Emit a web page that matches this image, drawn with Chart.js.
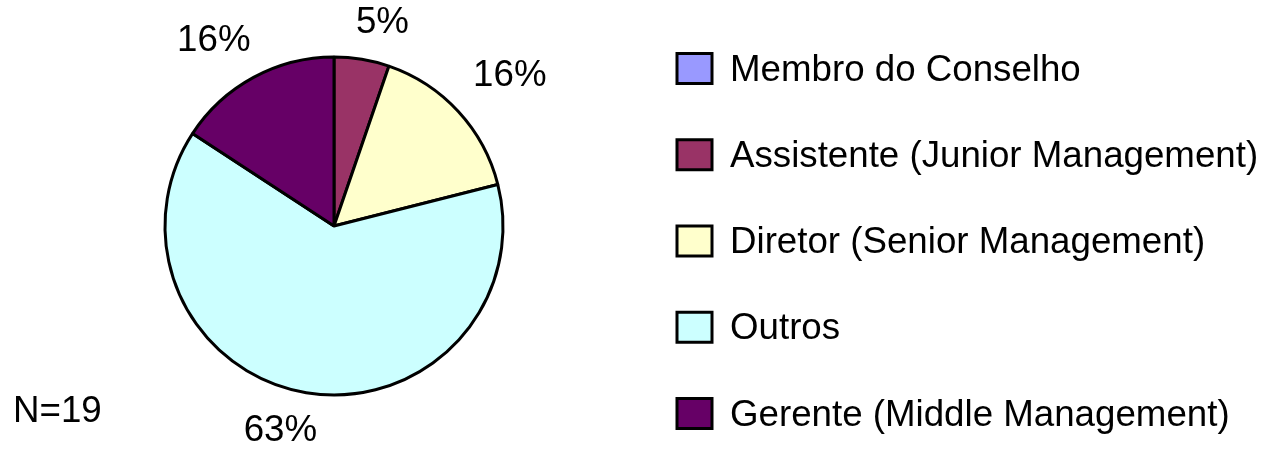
<!DOCTYPE html>
<html><head><meta charset="utf-8">
<script src="https://cdn.jsdelivr.net/npm/chart.js@4/dist/chart.umd.min.js"></script>
<style>html,body{margin:0;padding:0;background:#fff}#wrap{width:1270px;height:454px;position:relative}</style>
</head><body><div id="wrap"><canvas id="c" width="1270" height="454"></canvas></div>
<script>
const categories = ["Membro do Conselho","Assistente (Junior Management)","Diretor (Senior Management)","Outros","Gerente (Middle Management)"];
const counts = [0, 1, 3, 12, 3];
const colors = ["#9999FF","#993366","#FFFFCC","#CCFFFF","#660066"];
const sampleNote = "N=19";
const FONT = '36.7px "Liberation Sans", Arial, sans-serif';

const overlay = {
  id: 'overlay',
  afterDraw(chart) {
    const ctx = chart.ctx;
    const meta = chart.getDatasetMeta(0);
    const total = counts.reduce((a,b)=>a+b,0);
    ctx.save();
    ctx.font = FONT;
    ctx.fillStyle = '#000';
    ctx.textAlign = 'center';
    ctx.textBaseline = 'middle';
    meta.data.forEach((arc, i) => {
      if (!counts[i]) return;
      const p = arc.getProps(['x','y','startAngle','endAngle','outerRadius'], true);
      const mid = (p.startAngle + p.endAngle) / 2;
      const pct = Math.round(counts[i] / total * 100) + '%';
      const w = ctx.measureText(pct).width;
      const c = Math.cos(mid), s = Math.sin(mid);
      const px = p.x + c * p.outerRadius + c * 45 + Math.sign(c) * w * 0.25;
      const py = p.y + s * p.outerRadius + Math.sign(s) * 37;
      ctx.fillText(pct, px, py + 1);
    });
    // legend
    ctx.textAlign = 'left';
    categories.forEach((c, i) => {
      const y = 68.5 + i * 86.25;
      ctx.fillStyle = colors[i];
      ctx.fillRect(677, y - 15, 35, 30);
      ctx.lineWidth = 3;
      ctx.strokeStyle = '#000';
      ctx.strokeRect(677, y - 15, 35, 30);
      ctx.fillStyle = '#000';
      ctx.fillText(c, 730, y + 2);
    });
    ctx.fillText(sampleNote, 13, 412);
    ctx.restore();
  }
};

new Chart(document.getElementById('c'), {
  type: 'pie',
  data: { labels: categories, datasets: [{ data: counts, backgroundColor: colors, borderColor: '#000', borderWidth: 3, radius: 169 }] },
  options: {
    responsive: false, animation: false,
    layout: { padding: { left: 165, right: 767, top: 57, bottom: 59 } },
    plugins: { legend: { display: false }, tooltip: { enabled: false } }
  },
  plugins: [overlay]
});
</script></body></html>
